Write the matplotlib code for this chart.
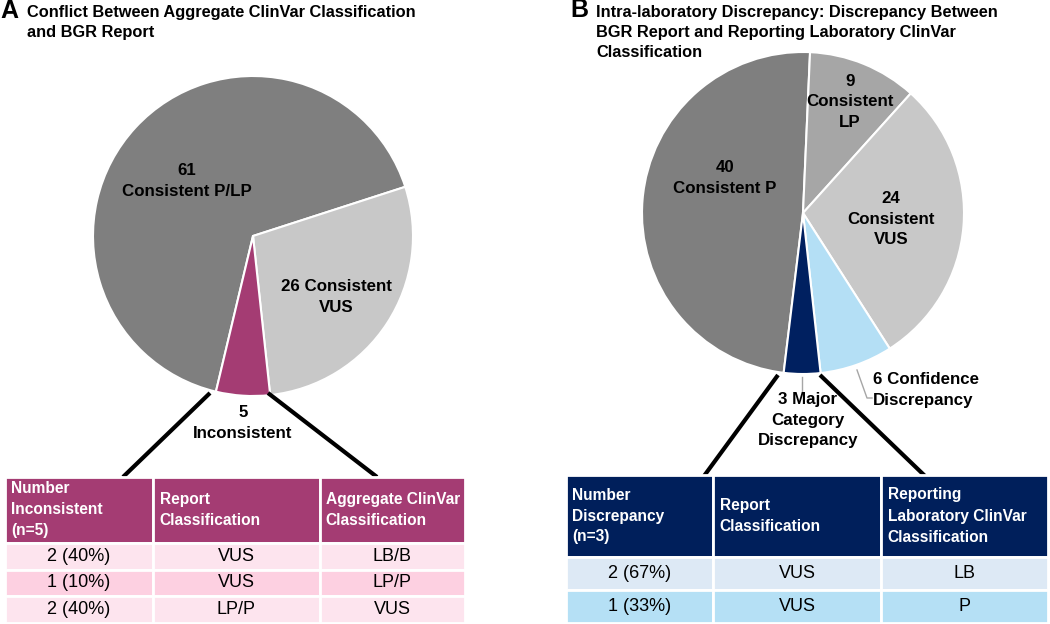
import matplotlib.pyplot as plt

plt.rcParams['font.family'] = ['Liberation Sans', 'DejaVu Sans']

W, H = 1050, 624

# panel A: aggregate ClinVar vs BGR report
agg_labels = ['{}\nConsistent P/LP', '{} Consistent\nVUS', '{}\nInconsistent']
agg_counts = [61, 26, 5]
agg_colors = ['#7f7f7f', '#c8c8c8', '#a43c73']

agg_header = ['Number\nInconsistent\n(n=5)', 'Report\nClassification', 'Aggregate ClinVar\nClassification']
agg_rows = [['2 (40%)', 'VUS', 'LB/B'],
            ['1 (10%)', 'VUS', 'LP/P'],
            ['2 (40%)', 'LP/P', 'VUS']]

# panel B: reporting lab ClinVar vs BGR report
lab_labels = ['{}\nConsistent P', '{}\nConsistent\nLP', '{}\nConsistent\nVUS',
              '{} Confidence\nDiscrepancy', '{} Major\nCategory\nDiscrepancy']
lab_counts = [40, 9, 24, 6, 3]
lab_colors = ['#7f7f7f', '#a6a6a6', '#c8c8c8', '#b4dff5', '#002060']

lab_header = ['Number\nDiscrepancy\n(n=3)', 'Report\nClassification',
              'Reporting\nLaboratory ClinVar\nClassification']
lab_rows = [['2 (67%)', 'VUS', 'LB'],
            ['1 (33%)', 'VUS', 'P']]


def up(y):
    # pixel row (from top) -> data y
    return H - y


fig = plt.figure(figsize=(10.5, 6.24), dpi=100)
ax = fig.add_axes([0, 0, 1, 1])

wp = dict(edgecolor='white', linewidth=1.5)
ax.pie(agg_counts, colors=agg_colors, startangle=256.6, counterclock=False,
       center=(253, up(236)), radius=160, wedgeprops=wp)
ax.pie(lab_counts, colors=lab_colors, startangle=263.1, counterclock=False,
       center=(803, up(213)), radius=161, wedgeprops=wp)
ax.set_xlim(0, W)
ax.set_ylim(0, H)
ax.set_aspect('equal')
ax.axis('off')

# slice labels
lbl = dict(fontsize=12.2, weight='bold', ha='center', va='center', linespacing=1.45)
agg_pos = [(187, 181), (336, 297), (243, 423)]
for t, n, (x, y) in zip(agg_labels, agg_counts, agg_pos):
    ax.text(x, up(y), t.format(n), **lbl)

lab_pos = [(725, 178), (850, 102), (891, 219), (873, 390), (808, 420)]
for i, (t, n, (x, y)) in enumerate(zip(lab_labels, lab_counts, lab_pos)):
    if i == 3:
        ax.text(x, up(y), t.format(n), **{**lbl, 'ha': 'left'})
    else:
        ax.text(x, up(y), t.format(n), **lbl)

# leader lines
ax.plot([802, 802], [up(377), up(392)], color='#a6a6a6', lw=1)
ax.plot([857, 867, 872], [up(370), up(398), up(398)], color='#a6a6a6', lw=1)

# connectors to tables
for (x0, y0), (x1, y1) in [((210, 393), (123, 477)), ((268, 393), (377, 477)),
                           ((778, 375), (704, 476)), ((820, 375), (925, 476))]:
    ax.plot([x0, x1], [up(y0), up(y1)], color='black', lw=3, solid_capstyle='butt')

# titles
ax.text(0, up(11), 'A', fontsize=18, weight='bold', va='center')
ax.text(27, up(22.5), 'Conflict Between Aggregate ClinVar Classification\nand BGR Report',
        fontsize=11.8, weight='bold', va='center', linespacing=1.45)
ax.text(570, up(10), 'B', fontsize=18, weight='bold', va='center')
ax.text(596, up(32.5), 'Intra-laboratory Discrepancy: Discrepancy Between\n'
        'BGR Report and Reporting Laboratory ClinVar\nClassification',
        fontsize=11.8, weight='bold', va='center', linespacing=1.45)


def draw_table(left, top, right, bottom, header, rows, col_px, head_px, row_px,
               head_color, row_colors):
    tax = fig.add_axes([left / W, (H - bottom) / H, (right - left) / W, (bottom - top) / H])
    tax.axis('off')
    tbl = tax.table(cellText=rows, colLabels=header, colWidths=col_px,
                    cellLoc='center', colLoc='left', bbox=[0, 0, 1, 1])
    tbl.auto_set_font_size(False)
    for (r, c), cell in tbl.get_celld().items():
        cell.set_edgecolor('white')
        cell.set_linewidth(2)
        cell.PAD = 0.04
        if r == 0:
            cell.set_height(head_px)
            cell.set_facecolor(head_color)
            cell.get_text().set(color='white', weight='bold', fontsize=11.2, linespacing=1.5)
        else:
            cell.set_height(row_px)
            cell.set_facecolor(row_colors[r - 1])
            cell.get_text().set(fontsize=13)
    return tbl


draw_table(5, 477, 465, 623, agg_header, agg_rows, [148, 167, 145], 66, 26.7,
           '#a43c73', ['#fde4ee', '#fdd0e1', '#fde4ee'])
draw_table(566, 475, 1048, 623, lab_header, lab_rows, [147, 168, 167], 82, 33,
           '#001f5b', ['#dde9f5', '#b5e0f5'])

fig.savefig('out.png', dpi=100)
